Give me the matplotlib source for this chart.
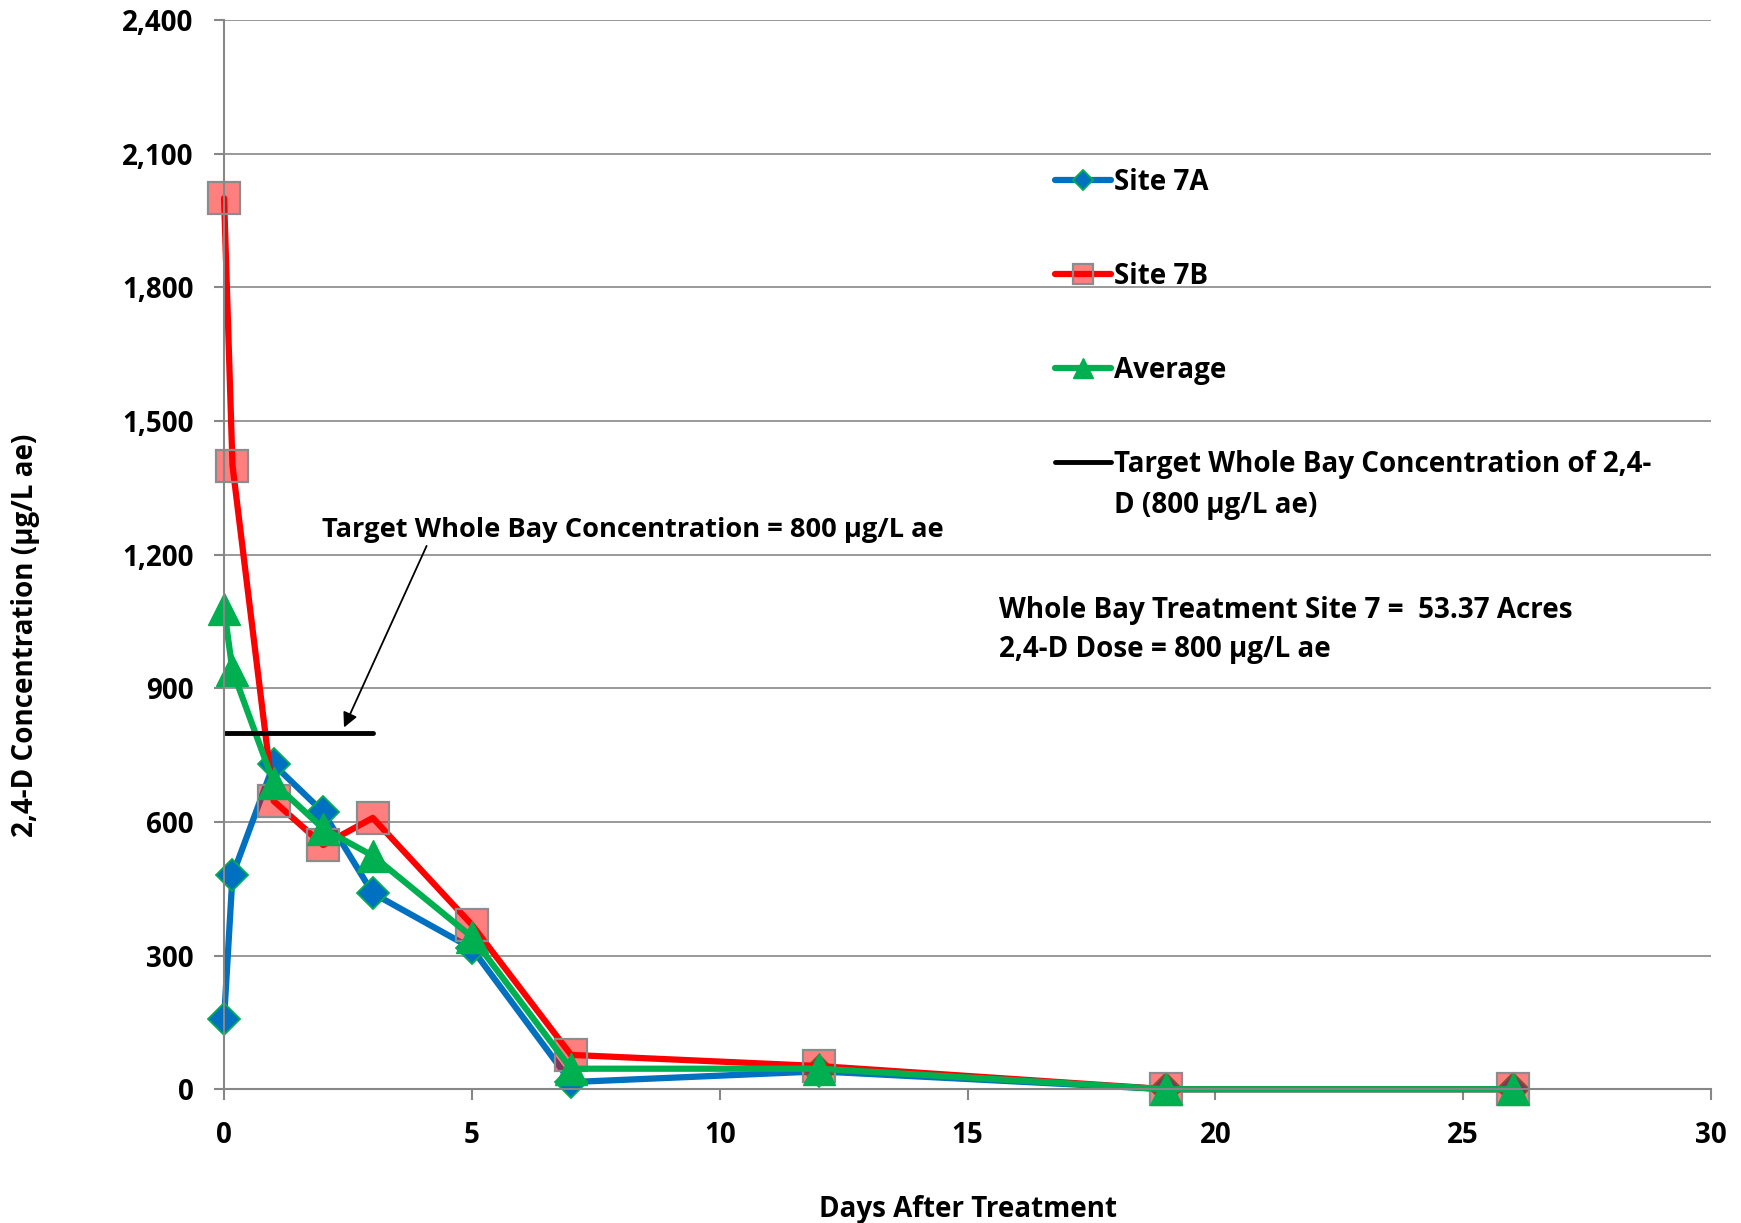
import numpy as np
import matplotlib.pyplot as plt
from matplotlib.ticker import FuncFormatter

# days after treatment
days = [0, 0.17, 1, 2, 3, 5, 7, 12, 19, 26]
site_7a = [157, 480, 729, 622, 440, 316, 16, 40, 0, 0]
site_7b = [2000, 1400, 647, 548, 609, 369, 77, 52, 0, 0]
average = [1078, 940, 688, 585, 524, 342, 46, 46, 0, 0]

target_days = [0, 3]
target_conc = [800, 800]

plt.rcParams['font.family'] = ['Open Sans', 'DejaVu Sans']
plt.rcParams['font.weight'] = 'bold'

fig = plt.figure(figsize=(17.41, 12.23), dpi=100)
ax = fig.add_axes([0.1287, 0.1094, 0.8541, 0.8742])

grey = '#878787'
line_kw = dict(lw=4.5, solid_capstyle='round', solid_joinstyle='round', clip_on=False)
ax.plot(days, site_7a, color='#0070C0', marker='D', ms=16.5,
        mfc='#0070C0', mec='#00B050', mew=1.3, label='Site 7A', **line_kw)
ax.plot(days, site_7b, color='#FF0000', marker='s', ms=23,
        mfc=(1, 0, 0, 0.5), mec='#8C8C8C', mew=1.6, label='Site 7B', **line_kw)
ax.plot(days, average, color='#00B050', marker='^', ms=23,
        mfc='#00B050', mec='#00B050', label='Average', **line_kw)
ax.plot(target_days, target_conc, color='black', lw=3.5,
        solid_capstyle='round', label='Target Whole Bay Concentration of 2,4-')

ax.set_xlim(0, 30)
ax.set_ylim(0, 2400)
ax.set_xticks(np.arange(0, 31, 5))
ax.set_yticks(np.arange(0, 2401, 300))
ax.yaxis.set_major_formatter(FuncFormatter(lambda v, p: f'{int(v):,}'))
ax.grid(axis='y', color=grey, lw=1.2)
ax.set_axisbelow(True)
for s in ['top', 'right']:
    ax.spines[s].set_visible(False)
for s in ['left', 'bottom']:
    ax.spines[s].set_color(grey)
    ax.spines[s].set_linewidth(1.5)
ax.tick_params(axis='y', length=7, width=1.5, color=grey, pad=15, labelsize=20)
ax.tick_params(axis='x', length=8, width=1.5, color=grey, pad=15, labelsize=20)
ax.set_xlabel('Days After Treatment', fontsize=20, fontweight='bold', labelpad=32)
ax.set_ylabel('2,4-D Concentration (µg/L ae)', fontsize=20, fontweight='bold')
ax.yaxis.set_label_coords(-0.124, 0.425)

leg = ax.legend(loc='upper left', bbox_to_anchor=(0.559, 0.862), frameon=False,
                prop=dict(weight='bold', size=20),
                handlelength=2.0, handletextpad=0.1,
                labelspacing=2.34, borderpad=0, borderaxespad=0, markerscale=0.6)

ax.annotate('Target Whole Bay Concentration = 800 µg/L ae',
            xy=(2.42, 812), xytext=(1.98, 1255), fontsize=19.6, fontweight='bold',
            va='center', ha='left',
            arrowprops=dict(arrowstyle='-|>', color='black', lw=1.3,
                            mutation_scale=22, shrinkA=0, shrinkB=0,
                            relpos=(0.17, 0.0)))

ax.text(15.63, 1030, 'Whole Bay Treatment Site 7 =  53.37 Acres\n2,4-D Dose = 800 µg/L ae',
        fontsize=20, fontweight='bold', va='center', ha='left', linespacing=1.45)

# second line of the wrapped legend label
fig.canvas.draw()
t = leg.get_texts()[3]
bb = t.get_window_extent().transformed(fig.transFigure.inverted())
fig.text(bb.x0, bb.y0 - 0.010, 'D (800 µg/L ae)', fontsize=20, fontweight='bold',
         va='top', ha='left')

fig.savefig('out.png', dpi=100)
